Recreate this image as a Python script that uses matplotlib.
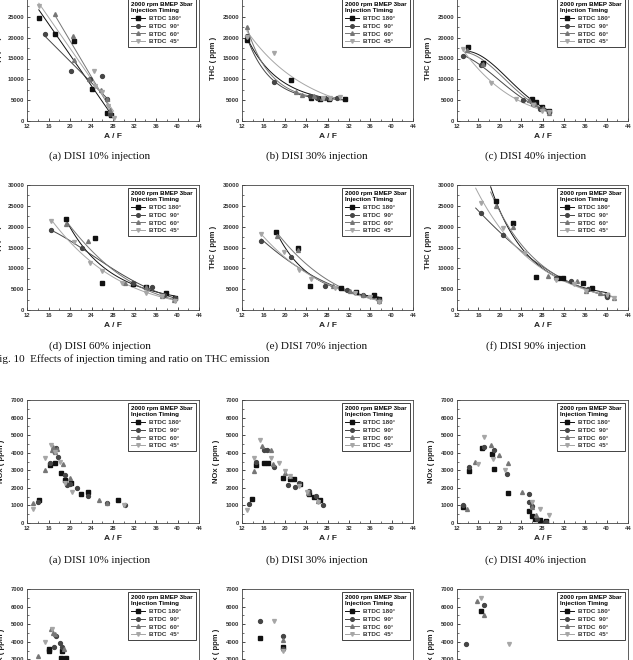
import numpy as np
import matplotlib
matplotlib.use("Agg")
import matplotlib.pyplot as plt
from matplotlib.ticker import MultipleLocator, FormatStrFormatter
from matplotlib.lines import Line2D

# ---------------- data ----------------
timings = ["180", "90", "60", "45"]
x_ticks = [12, 16, 20, 24, 28, 32, 36, 40, 44]
thc_ticks = [0, 5000, 10000, 15000, 20000, 25000, 30000]
nox_ticks = [0, 1000, 2000, 3000, 4000, 5000, 6000, 7000]
captions_thc = ["(a) DISI 10% injection", "(b) DISI 30% injection", "(c) DISI 40% injection",
                "(d) DISI 60% injection", "(e) DISI 70% injection", "(f) DISI 90% injection"]
captions_nox = ["(a) DISI 10% injection", "(b) DISI 30% injection", "(c) DISI 40% injection"]
fig_caption = "Fig. 10  Effects of injection timing and ratio on THC emission"
legend_title = "2000 rpm BMEP 3bar\nInjection Timing"

# THC (ppm) vs A/F -- (x list, y list) per injection timing
thc_a_180 = ([14.2, 17.2, 20.7, 24.0, 26.8, 27.6], [24800, 20900, 19100, 7600, 1900, 1400])
thc_a_90 = ([15.4, 20.1, 23.7, 26.0, 26.8, 27.4], [21000, 12000, 10000, 10900, 5300, 1800])
thc_a_60 = ([17.3, 20.6, 20.7, 23.6, 25.7, 26.9, 27.5], [25800, 20500, 14700, 10200, 7400, 5200, 2600])
thc_a_45 = ([14.2, 24.4, 24.6, 25.9, 27.1, 28.1], [27600, 12000, 8500, 7000, 3600, 800])

thc_b_180 = ([12.9, 21.2, 25.0, 26.6, 28.2, 31.3], [19400, 9900, 5600, 5400, 5400, 5400])
thc_b_90 = ([12.9, 18.0, 24.7, 26.0, 27.6, 29.8], [20300, 9400, 5900, 5600, 5500, 5600])
thc_b_60 = ([12.9, 22.1, 23.2, 25.4, 27.0, 28.5], [22600, 7000, 6300, 6000, 5600, 5600])
thc_b_45 = ([12.9, 18.0, 27.2, 28.5, 30.4], [20200, 16300, 5500, 5600, 5800])

thc_c_180 = ([14.0, 16.9, 26.0, 26.8, 27.9, 29.2], [17700, 14000, 5300, 4500, 3400, 2400])
thc_c_90 = ([13.2, 16.5, 24.4, 26.3, 27.6, 29.2], [15600, 13500, 5100, 4200, 2800, 2200])
thc_c_60 = ([13.9, 16.9, 25.4, 26.6, 28.0, 29.2], [17000, 13800, 5000, 4000, 3200, 2000])
thc_c_45 = ([13.2, 18.3, 23.0, 26.3, 27.9, 29.2], [17200, 9100, 5300, 3800, 2400, 2200])

thc_d_180 = ([19.2, 24.7, 26.0, 31.8, 34.2, 37.8, 39.5], [21800, 17200, 6600, 6300, 5500, 4200, 3000])
thc_d_90 = ([16.5, 22.3, 31.8, 35.2, 37.4, 39.5], [19200, 14800, 6400, 5600, 3600, 2800])
thc_d_60 = ([19.3, 23.4, 30.2, 34.2, 37.2, 39.4], [20700, 16500, 6400, 5600, 3400, 2400])
thc_d_45 = ([16.5, 20.7, 23.8, 26.0, 29.7, 34.2, 37.1, 39.5], [21400, 16400, 11200, 9400, 6600, 4200, 3400, 2200])

thc_e_180 = ([18.3, 22.4, 24.7, 30.6, 33.4, 36.7, 37.6], [18800, 14800, 5700, 5400, 4300, 3500, 2700])
thc_e_90 = ([15.6, 21.1, 27.6, 31.6, 34.7, 37.6], [16500, 12700, 5700, 4900, 3600, 2400])
thc_e_60 = ([18.5, 22.4, 29.1, 32.3, 34.7, 37.6], [17800, 14400, 5700, 4500, 3500, 2200])
thc_e_45 = ([15.6, 19.8, 22.6, 24.9, 29.4, 33.2, 36.0, 37.6], [18200, 14000, 9600, 7500, 5300, 4100, 3200, 2000])

thc_f_180 = ([19.3, 22.4, 26.8, 30.9, 31.9, 35.5, 37.3, 40.0], [26200, 20800, 8000, 7800, 7800, 6400, 5200, 3600])
thc_f_90 = ([16.5, 20.7, 30.6, 33.4, 36.5, 40.0], [23200, 18000, 7600, 7000, 5000, 3200])
thc_f_60 = ([19.3, 22.4, 29.0, 34.4, 36.2, 38.7, 41.4], [25000, 20000, 8200, 7000, 4600, 4200, 3000])
thc_f_45 = ([16.5, 20.7, 24.7, 30.6, 33.9, 36.2, 40.0, 41.4], [25800, 19600, 13600, 7200, 6200, 4600, 3600, 3000])

# NOx (ppm) vs A/F
nox_a_180 = ([14.2, 16.2, 17.3, 18.4, 19.1, 20.2, 22.0, 23.3, 28.9],
             [1320, 3300, 3400, 2840, 2460, 2270, 1630, 1760, 1320])
nox_a_90 = ([14.0, 16.2, 17.8, 19.0, 19.4, 20.0, 21.3, 23.3, 26.9, 30.2, 17.0, 17.4],
            [1190, 3400, 3780, 2740, 2140, 2230, 1990, 1510, 1130, 1040, 4100, 4250])
nox_a_60 = ([13.1, 15.3, 16.7, 17.6, 18.7, 20.0, 25.4, 26.9, 16.9, 17.2],
            [1150, 2990, 4160, 4220, 3330, 2570, 1290, 1150, 4300, 4050])
nox_a_45 = ([13.1, 15.3, 16.5, 17.3, 18.2, 19.1, 20.4, 30.1],
            [780, 3690, 4440, 4060, 3460, 2270, 1760, 1000])

nox_b_180 = ([13.8, 14.6, 16.1, 16.9, 19.6, 20.9, 21.7, 22.8, 24.6, 25.4, 26.6],
             [1360, 3300, 3430, 3390, 2540, 2490, 2490, 2200, 1640, 1470, 1320])
nox_b_90 = ([13.4, 14.6, 16.1, 16.7, 17.9, 20.7, 21.9, 22.7, 24.6, 25.8, 27.2],
            [1070, 3480, 4180, 4180, 3200, 2170, 2070, 2260, 1830, 1510, 1040])
nox_b_60 = ([14.2, 15.7, 17.5, 17.8, 20.0, 20.9, 24.4, 26.2],
            [2960, 4370, 4180, 3350, 2860, 2670, 1730, 1260])
nox_b_45 = ([12.9, 14.2, 15.4, 17.4, 19.0, 20.0, 21.0, 22.7, 24.1, 26.2],
            [750, 3710, 4750, 3710, 3430, 2960, 2670, 2110, 1790, 1170])

nox_c_180 = ([13.1, 14.2, 16.7, 18.5, 19.0, 21.5, 25.5, 26.0, 26.6, 27.6, 28.6],
             [900, 2960, 4270, 3920, 3070, 1690, 660, 410, 230, 190, 90])
nox_c_90 = ([13.1, 14.2, 17.0, 19.0, 21.4, 25.4, 25.4, 26.0, 26.9, 28.6],
            [1040, 3200, 4330, 4180, 2770, 1640, 1220, 940, 230, 60])
nox_c_60 = ([13.9, 15.4, 18.4, 19.9, 21.5, 24.2, 26.0, 26.7],
            [790, 3480, 4430, 3860, 3390, 1790, 890, 470])
nox_c_45 = ([15.9, 17.1, 18.8, 21.0, 26.0, 27.5, 29.2],
            [3350, 4900, 3670, 3010, 1170, 790, 470])

nox_d_180 = ([16.1, 16.1, 18.4, 19.2, 18.6], [3600, 3500, 3100, 3050, 3500])
nox_d_90 = ([17.4, 18.1, 18.6, 17.0], [4300, 3900, 3700, 3700])
nox_d_60 = ([14.1, 16.4, 16.9, 17.3, 18.8], [3200, 4700, 4500, 4450, 3600])
nox_d_45 = ([15.3, 16.7], [4000, 4750])

nox_e_180 = ([15.4, 19.6], [4200, 3700])
nox_e_90 = ([15.4, 19.6, 19.6], [5200, 4300, 3600])
nox_e_60 = ([19.6], [4100])
nox_e_45 = ([18.0, 19.6], [5200, 3500])

nox_f_180 = ([16.4], [5750])
nox_f_90 = ([13.6, 17.1], [3850, 6100])
nox_f_60 = ([15.8, 17.1], [6300, 5500])
nox_f_45 = ([16.5, 21.7], [6500, 3850])

thc_sets = [[thc_a_180, thc_a_90, thc_a_60, thc_a_45],
            [thc_b_180, thc_b_90, thc_b_60, thc_b_45],
            [thc_c_180, thc_c_90, thc_c_60, thc_c_45],
            [thc_d_180, thc_d_90, thc_d_60, thc_d_45],
            [thc_e_180, thc_e_90, thc_e_60, thc_e_45],
            [thc_f_180, thc_f_90, thc_f_60, thc_f_45]]
nox_sets = [[nox_a_180, nox_a_90, nox_a_60, nox_a_45],
            [nox_b_180, nox_b_90, nox_b_60, nox_b_45],
            [nox_c_180, nox_c_90, nox_c_60, nox_c_45],
            [nox_d_180, nox_d_90, nox_d_60, nox_d_45],
            [nox_e_180, nox_e_90, nox_e_60, nox_e_45],
            [nox_f_180, nox_f_90, nox_f_60, nox_f_45]]

# ---------------- style ----------------
W, H = 633, 660
colors = ["#111111", "#464646", "#767676", "#a6a6a6"]
markers = ["s", "o", "^", "v"]
fit_kind = ["lin", "exp", "exp", "exp", "exp", "exp"]
fit_pad = [0, 0, 0, 0, 0, 1.0]
col_lr = [(27, 199), (242, 413), (457, 628)]
rows_tb = [(-4, 121), (185, 310), (400, 523), (589, 712)]
SANS = ["Liberation Sans", "DejaVu Sans"]
SERIF = ["Liberation Serif", "DejaVu Serif"]

fig = plt.figure(figsize=(W / 100, H / 100), dpi=100)
fig.patch.set_facecolor("white")


def make_ax(row, col):
    l, r = col_lr[col]
    t, b = rows_tb[row]
    return fig.add_axes([l / W, 1 - b / H, (r - l) / W, (b - t) / H])


def fit_curve(x, y, kind, pad):
    x = np.asarray(x, float)
    y = np.asarray(y, float)
    xs = np.linspace(x.min() - pad, x.max(), 120)
    if kind == "lin":
        p = np.polyfit(x, y, 1)
        ys = np.polyval(p, xs)
    else:
        p = np.polyfit(x, np.log(y), 2)
        ys = np.exp(np.polyval(p, xs))
    return xs, ys


def style_ax(ax, yticks, ylabel, ymax):
    ax.set_xlim(12, 44)
    ax.set_ylim(0, ymax)
    ax.set_xticks(x_ticks)
    ax.set_yticks(yticks)
    ax.xaxis.set_minor_locator(MultipleLocator(2))
    ax.yaxis.set_minor_locator(MultipleLocator(yticks[1] / 2))
    ax.yaxis.set_major_formatter(FormatStrFormatter("%d"))
    ax.tick_params(which="major", direction="in", length=2.2, width=0.5, labelsize=4.2, pad=2)
    ax.tick_params(which="minor", direction="in", length=1.2, width=0.4)
    for lab in ax.get_xticklabels() + ax.get_yticklabels():
        lab.set_fontweight("bold")
        lab.set_family(SANS)
        lab.set_color("#333333")
    for s in ax.spines.values():
        s.set_linewidth(0.6)
        s.set_color("#444444")
    ax.set_xlabel("A / F", fontsize=6, fontweight="bold", family=SANS, labelpad=3, color="#222222")
    ax.set_ylabel(ylabel, fontsize=5.5, fontweight="bold", family=SANS, labelpad=4, color="#222222")


def add_legend(ax):
    handles = [Line2D([0], [0], color=colors[i], marker=markers[i], markersize=2.6, lw=0.7,
                      markerfacecolor=colors[i], markeredgecolor=colors[i])
               for i in range(4)]
    labels = ["BTDC 180\u00b0", "BTDC  90\u00b0", "BTDC  60\u00b0", "BTDC  45\u00b0"]
    leg = ax.legend(handles, labels, loc="upper right", bbox_to_anchor=(0.98, 0.975),
                    title=legend_title, alignment="left", fontsize=4.5, title_fontsize=4.5,
                    frameon=True, fancybox=False, edgecolor="#222222", framealpha=1,
                    handlelength=2.2, handletextpad=0.6, labelspacing=0.38,
                    borderpad=0.45, borderaxespad=0)
    leg.get_frame().set_linewidth(0.6)
    leg.get_title().set_fontweight("bold")
    leg.get_title().set_family(SANS)
    leg.get_title().set_linespacing(1.35)
    for t in leg.get_texts():
        t.set_fontweight("bold")
        t.set_family(SANS)
        t.set_color("#333333")


# THC panels (rows 0,1)
for k in range(6):
    ax = make_ax(k // 3, k % 3)
    for i, (xs, ys) in enumerate(thc_sets[k]):
        fx, fy = fit_curve(xs, ys, fit_kind[k], fit_pad[k])
        ax.plot(fx, fy, color=colors[i], lw=0.7, zorder=2)
        ax.plot(xs, ys, linestyle="none", marker=markers[i], markersize=2.8,
                color=colors[i], zorder=3)
    style_ax(ax, thc_ticks, "THC ( ppm )", 30000)
    add_legend(ax)

# NOx panels (rows 2,3)
for k in range(6):
    ax = make_ax(2 + k // 3, k % 3)
    for i, (xs, ys) in enumerate(nox_sets[k]):
        ax.plot(xs, ys, linestyle="none", marker=markers[i], markersize=2.8,
                color=colors[i], zorder=3)
    style_ax(ax, nox_ticks, "NOx ( ppm )", 7000)
    add_legend(ax)

# captions
cap_x = [100, 317, 536]
for k in range(6):
    y = 156 if k < 3 else 346
    fig.text(cap_x[k % 3] / W, 1 - y / H, captions_thc[k], ha="center", va="center",
             family=SERIF, fontsize=8, color="#111111")
for k in range(3):
    fig.text(cap_x[k] / W, 1 - 560 / H, captions_nox[k], ha="center", va="center",
             family=SERIF, fontsize=8, color="#111111")
fig.text(-7 / W, 1 - 359 / H, fig_caption, ha="left", va="center",
         family=SERIF, fontsize=8, color="#111111")

fig.savefig("out.png", dpi=100, facecolor="white")
